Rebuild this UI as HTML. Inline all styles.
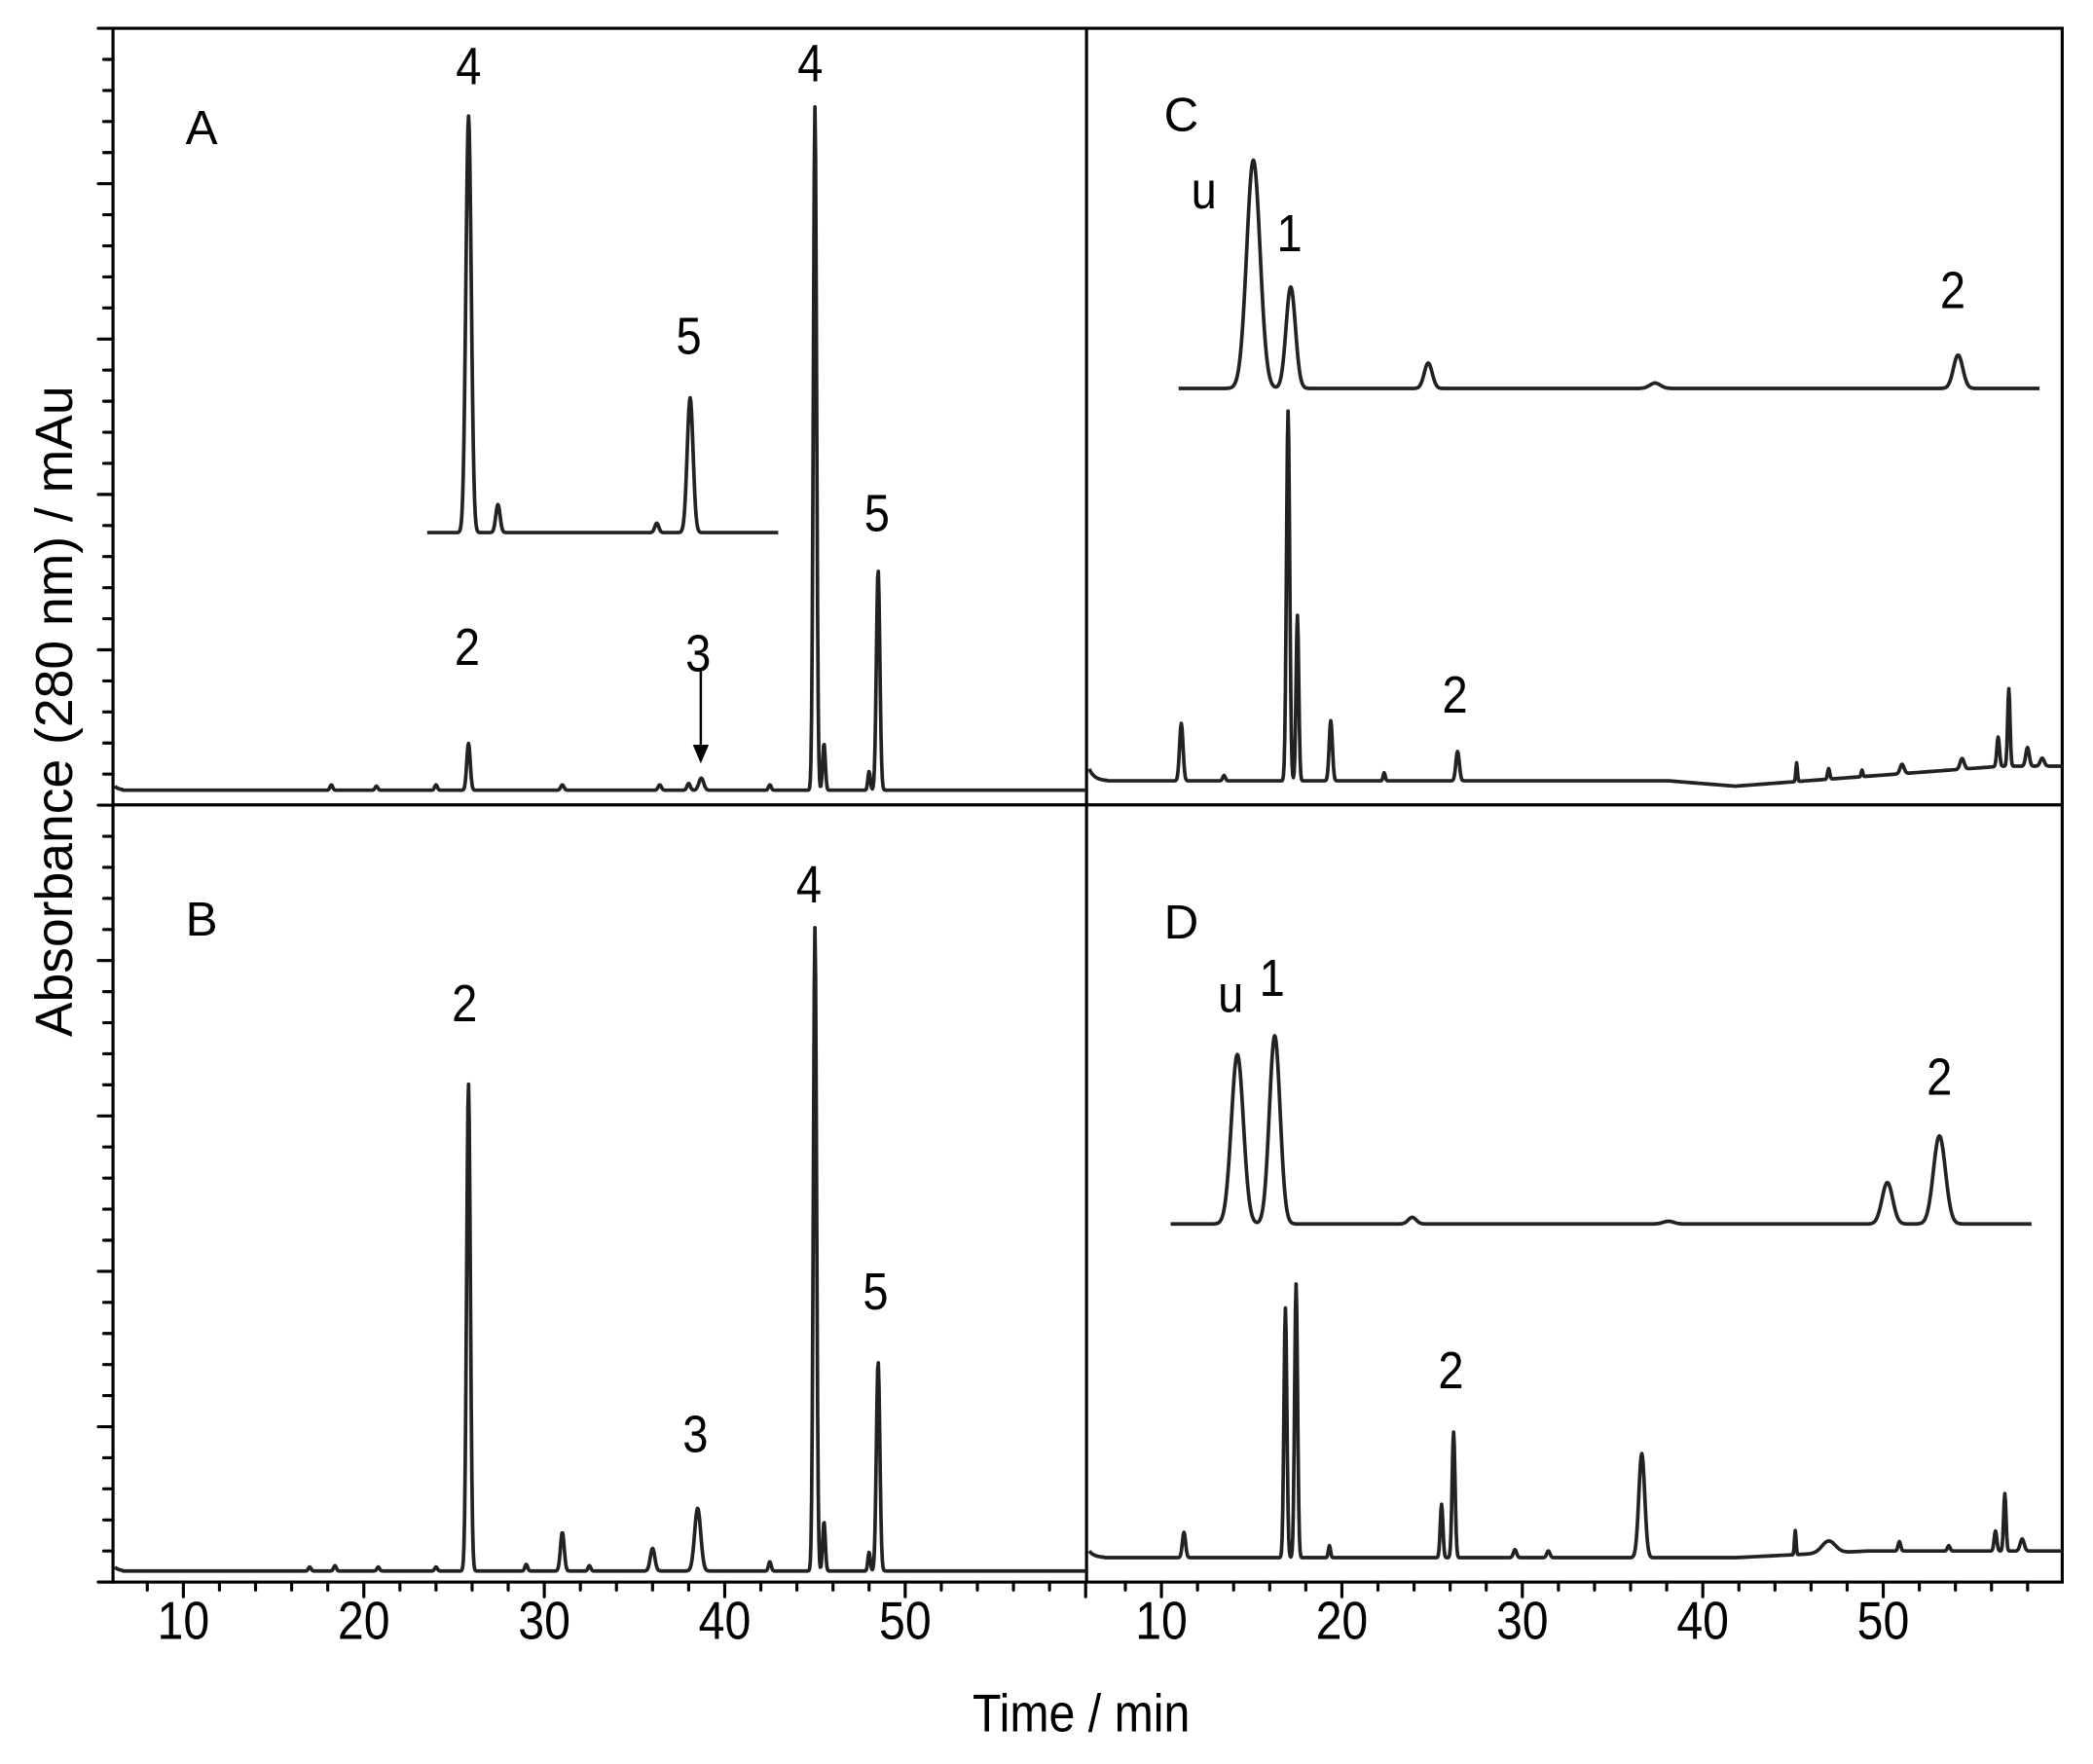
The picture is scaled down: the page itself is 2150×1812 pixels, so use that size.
<!DOCTYPE html>
<html><head><meta charset="utf-8"><style>
html,body{margin:0;padding:0;background:#fff}
svg{display:block}
text{font-family:"Liberation Sans",sans-serif;fill:#000}
</style></head><body>
<svg id="s" width="2150" height="1812" viewBox="0 0 1568 1321.6" xmlns="http://www.w3.org/2000/svg">
<g id="axes" stroke="#000" stroke-width="2.3" fill="none">
<rect x="84.6" y="21.2" width="1460.4" height="1164.1"/>
<line x1="814" y1="21.2" x2="814" y2="1185.3"/>
<line x1="84.6" y1="603" x2="1545" y2="603"/>
</g>
<g id="ticks" stroke="#000" stroke-width="2.3" stroke-linecap="round"></g>
<g id="traces" stroke="#222" stroke-width="2.7" fill="none" stroke-linejoin="round"></g>
<line x1="525" y1="503" x2="525" y2="566" stroke="#000" stroke-width="1.8"/>
<polygon points="519,558 531,558 525,572" fill="#000"/>
<g font-size="36">
<text x="139" y="108">A</text>
<text x="139" y="701">B</text>
<text x="872" y="98">C</text>
<text x="872" y="703">D</text>
</g>
<g font-size="39" text-anchor="middle">
<text x="351" y="63" transform="translate(351,0) scale(0.88,1) translate(-351,0)">4</text>
<text x="516" y="265" transform="translate(516,0) scale(0.88,1) translate(-516,0)">5</text>
<text x="350" y="498" transform="translate(350,0) scale(0.88,1) translate(-350,0)">2</text>
<text x="523" y="503" transform="translate(523,0) scale(0.88,1) translate(-523,0)">3</text>
<text x="607" y="61" transform="translate(607,0) scale(0.88,1) translate(-607,0)">4</text>
<text x="657" y="398" transform="translate(657,0) scale(0.88,1) translate(-657,0)">5</text>
<text x="348" y="765" transform="translate(348,0) scale(0.88,1) translate(-348,0)">2</text>
<text x="521" y="1088" transform="translate(521,0) scale(0.88,1) translate(-521,0)">3</text>
<text x="606" y="676" transform="translate(606,0) scale(0.88,1) translate(-606,0)">4</text>
<text x="656" y="981" transform="translate(656,0) scale(0.88,1) translate(-656,0)">5</text>
<text x="902" y="156" transform="translate(902,0) scale(0.88,1) translate(-902,0)">u</text>
<text x="966" y="188" transform="translate(966,0) scale(0.88,1) translate(-966,0)">1</text>
<text x="1463" y="231" transform="translate(1463,0) scale(0.88,1) translate(-1463,0)">2</text>
<text x="1090" y="534" transform="translate(1090,0) scale(0.88,1) translate(-1090,0)">2</text>
<text x="922" y="758" transform="translate(922,0) scale(0.88,1) translate(-922,0)">u</text>
<text x="953" y="746" transform="translate(953,0) scale(0.88,1) translate(-953,0)">1</text>
<text x="1087" y="1040" transform="translate(1087,0) scale(0.88,1) translate(-1087,0)">2</text>
<text x="1453" y="820" transform="translate(1453,0) scale(0.88,1) translate(-1453,0)">2</text>
</g>
<g id="xl" font-size="40" text-anchor="middle"></g>
<text x="810" y="1297" font-size="40" text-anchor="middle" transform="translate(810,0) scale(0.88,1) translate(-810,0)">Time / min</text>
<text transform="translate(54,533) rotate(-90)" font-size="39" text-anchor="middle">Absorbance (280 nm) / mAu</text>
</svg>
<script>
var NS="http://www.w3.org/2000/svg";
function el(p,t,a,txt){var e=document.createElementNS(NS,t);for(var k in a)e.setAttribute(k,a[k]);if(txt)e.textContent=txt;document.getElementById(p).appendChild(e);}
var yTop=21.2,yBot=1185.3;
for(var i=0;i<=50;i++){var yy=yTop+(yBot-yTop)*i/50;var L=(i%5==0)?11:7;el("ticks","line",{x1:84.6-L,y1:yy,x2:84.6,y2:yy});}
function xL(t){return 84.6+(t-6.1)*13.52;}
function xR(t){return 814+(t-5.85)*13.52;}
[xL,xR].forEach(function(f){for(var t=8;t<=60;t+=2){var x=f(t);if(x>1545.5)continue;var L=(t%10==0)?11:6;el("ticks","line",{x1:x,y1:1185.3,x2:x,y2:1185.3+L});}
[10,20,30,40,50].forEach(function(t){var x=f(t);el("xl","text",{x:x,y:1228,transform:"translate("+x+",0) scale(0.88,1) translate("+(-x)+",0)"},String(t));});});
function trace(x0,x1,base,peaks,drift){var d="";for(var x=x0;x<=x1;x+=0.5){var y=base;if(drift)y+=drift(x);for(var j=0;j<peaks.length;j++){var p=peaks[j];var u=(x-p[0])/p[2];if(Math.abs(u)<6)y-=p[1]*Math.exp(-0.5*u*u);}d+=(d?"L":"M")+x.toFixed(1)+" "+y.toFixed(1);}el("traces","path",{d:d});}
trace(86,814,592,[[xL(18.2),4,1],[xL(20.7),3,1],[xL(24),4,1],[xL(25.8),35,1.3],[xL(31),4,1.2],[xL(36.4),4,1.2],[xL(38),5,1.2],[xL(38.7),9,1.8],[xL(42.5),4,1],[xL(45),512,1.2],[xL(45.5),35,1],[xL(48),14,0.9],[xL(48.5),165,1.3]],function(x){return x<92?-3*Math.exp(-(x-86)/3):0;});
trace(320,583,399,[[351,312,2],[373,21,1.6],[492,7,1.5],[517,101,2.2]]);
trace(86,814,1177,[[xL(17),3,1],[xL(18.4),4,1],[xL(20.8),3,1],[xL(24),3,1],[xL(25.8),365,1.4],[xL(29),5,1],[xL(31),29,1.4],[xL(32.5),4,1],[xL(36),17,1.7],[xL(38.5),47,2.3],[xL(42.5),7,1],[xL(45),482,1.2],[xL(45.5),37,1],[xL(48),14,0.9],[xL(48.5),157,1.3]],function(x){return x<92?-3*Math.exp(-(x-86)/3):0;});
trace(883,1528,291,[[939,171,5],[967,76,3.5],[1070,19,3],[1240,4,4],[1467,25,3.5]]);
trace(816,1545,585,[[885,43,1.3],[917,4,1],[965,277,1.2],[972,124,1],[997,45,1.2],[1037,6,0.8],[1092,22,1.3],[1346,14,0.6],[1370,8,0.8],[1395,5,0.6],[1425,7,1.5],[1470,8,1.5],[1497,22,1],[1505,58,0.9],[1519,14,1.3],[1530,6,1.5]],function(x){var v=0;if(x<830)v-=9*Math.exp(-(x-816)/4);if(x>1250&&x<=1300)v+=4*(x-1250)/50;else if(x>1300)v+=4-15*Math.min(1,(x-1300)/200);return v;});
trace(877,1522,917,[[927,127,4.5],[955,141,4],[1058,5,3],[1250,2,4],[1414,31,4],[1453,66,4.5]]);
trace(816,1545,1167,[[887,19,1.2],[963,187,1.1],[971,205,1.1],[996,9,0.8],[1080,40,1],[1089,94,1.1],[1135,6,1.2],[1160,5,1.2],[1230,78,2.2],[1345,18,0.6],[1370,9,5],[1423,7,1],[1460,4,1],[1495,15,1],[1502,43,0.9],[1515,9,1.5]],function(x){var v=0;if(x<828)v-=5*Math.exp(-(x-816)/4);if(x>1300)v-=5*Math.min(1,(x-1300)/100);return v;});
</script>
</body></html>
